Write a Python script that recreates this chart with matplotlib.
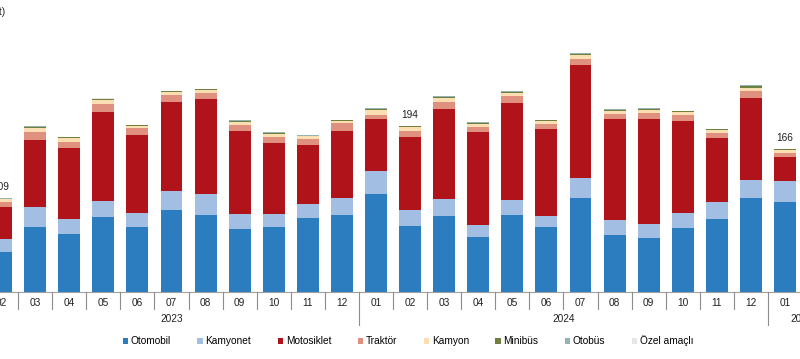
import matplotlib
matplotlib.use("Agg")
import matplotlib.pyplot as plt
import numpy as np

plt.rcParams['font.family'] = ['Liberation Sans', 'DejaVu Sans']

months = ["02", "03", "04", "05", "06", "07", "08", "09", "10", "11", "12",
          "01", "02", "03", "04", "05", "06", "07", "08", "09", "10", "11", "12",
          "01"]
years = ["2023", "2024", "2025"]
year_of_month = [0] * 11 + [1] * 12 + [2] * 1
# months per year group in the full (uncropped) chart; 2025 continues past the edge
year_group_len = [11, 12, 2]

otomobil   = [46.5, 75.6, 67.4, 87.2, 75.6, 95.3, 89.5, 73.3, 75.6, 86.0, 89.5,
              114.0, 76.7, 88.4, 64.0, 89.5, 75.6, 109.3, 66.3, 62.8, 74.4, 84.9, 109.3,
              104.7]
kamyonet   = [15.1, 23.3, 17.4, 18.6, 16.3, 22.1, 24.4, 17.4, 15.1, 16.3, 19.8,
              26.7, 18.6, 19.8, 14.0, 17.4, 12.8, 23.3, 17.4, 16.3, 17.4, 19.8, 20.9,
              24.4]
motosiklet = [37.6, 77.9, 82.9, 103.8, 91.0, 103.5, 110.5, 96.5, 82.6, 68.6, 77.9,
              60.5, 84.9, 104.7, 108.1, 112.8, 101.2, 131.4, 117.4, 122.1, 107.0, 74.4, 95.3,
              27.9]
traktor    = [5.1, 9.0, 6.3, 8.6, 7.8, 8.1, 7.0, 7.0, 7.0, 7.0, 9.3,
              4.7, 7.0, 8.1, 5.8, 8.1, 5.8, 7.0, 5.8, 7.0, 7.0, 6.2, 8.1,
              4.7]
kamyon     = [3.5, 5.0, 5.0, 5.0, 2.3, 3.8, 3.5, 3.5, 3.5, 3.1, 2.3,
              5.8, 4.3, 4.7, 3.5, 3.5, 3.5, 4.3, 3.5, 3.5, 3.5, 3.1, 3.5,
              3.1]
minibus    = [0.9, 1.6, 0.9, 1.3, 0.9, 0.7, 0.9, 1.3, 1.6, 0.9, 0.9,
              1.6, 1.2, 1.6, 1.6, 1.6, 0.6, 2.0, 1.6, 1.6, 0.9, 0.9, 2.8,
              1.2]
otobus     = [0.4, 0.5, 0.4, 0.5, 0.4, 0.3, 0.4, 0.5, 0.5, 0.4, 0.4,
              0.5, 0.5, 0.5, 0.5, 0.5, 0.4, 0.5, 0.5, 0.5, 0.4, 0.4, 0.5,
              0.5]
ozel       = [0.2, 0.2, 0.2, 0.2, 0.2, 0.2, 0.2, 0.2, 0.2, 0.2, 0.2,
              0.2, 0.2, 0.2, 0.2, 0.2, 0.2, 0.2, 0.2, 0.2, 0.2, 0.2, 0.2,
              0.2]

series_names = ["Otomobil", "Kamyonet", "Motosiklet", "Traktör", "Kamyon",
                "Minibüs", "Otobüs", "Özel amaçlı"]
series_values = [otomobil, kamyonet, motosiklet, traktor, kamyon, minibus, otobus, ozel]
series_colors = ["#2B7DC0", "#A3BEE3", "#B0141A", "#E0907E", "#FBDFB2",
                 "#6F7F3E", "#93B3B5", "#E6E6E6"]

label_index = [0, 12, 23]
label_text = ["109", "194", "166"]

W, H = 800, 359
fig = plt.figure(figsize=(W / 100, H / 100), dpi=100)
base_px = 292
ax = fig.add_axes([0, (H - base_px) / H, 1, base_px / H])

x = np.arange(len(months))
bottom = np.zeros(len(months))
handles = []
for name, vals, col in zip(series_names, series_values, series_colors):
    v = np.array(vals)
    b = ax.bar(x, v, width=0.645, bottom=bottom, color=col, label=name,
               linewidth=0)
    handles.append(b)
    bottom = bottom + v

for idx, txt in zip(label_index, label_text):
    ax.annotate(txt, (x[idx], bottom[idx]), xytext=(0, 4),
                textcoords="offset points", ha="center", va="bottom",
                fontsize=7.3, color="#222222")

ax.set_xlim(-0.032, 23.44)
ax.set_ylim(0, base_px / 0.86)
for s in ax.spines.values():
    s.set_visible(False)
ax.set_yticks([])
ax.set_xticks([])

ax.axhline(0, color="#A0A0A0", linewidth=0.8, clip_on=False)

trans = ax.get_xaxis_transform()
px_ax = 1.0 / base_px  # one pixel in axes-height fraction
for i, m in enumerate(months):
    ax.text(x[i], -11 * px_ax, m, transform=trans, ha="center", va="center",
            fontsize=7.3, color="#222222")
# dividers between months / years
for i in range(len(months) - 1):
    xd = x[i] + 0.5
    long_line = year_of_month[i] != year_of_month[i + 1]
    y_end = -33 * px_ax if long_line else -17 * px_ax
    ax.plot([xd, xd], [0, y_end], transform=trans, color="#8C8C8C",
            linewidth=0.8, clip_on=False)
for yi, yl in enumerate(years):
    idxs = [i for i, g in enumerate(year_of_month) if g == yi]
    xc = x[idxs[0]] + (year_group_len[yi] - 1) / 2
    ax.text(xc, -27.5 * px_ax, yl, transform=trans, ha="center", va="center",
            fontsize=7.3, color="#222222")

fig.text(5 / W, 1 - 12 / H, "(Bin adet)", ha="right", va="center",
         fontsize=7.3, color="#222222")

fig.legend(handles=handles, labels=series_names, loc="center",
           bbox_to_anchor=(408 / W, 1 - 341 / H), ncol=8, frameon=False,
           fontsize=7.3, handlelength=0.55, handleheight=0.55,
           handletextpad=0.25, columnspacing=2.6, borderaxespad=0)

fig.savefig("out.png", dpi=100)
